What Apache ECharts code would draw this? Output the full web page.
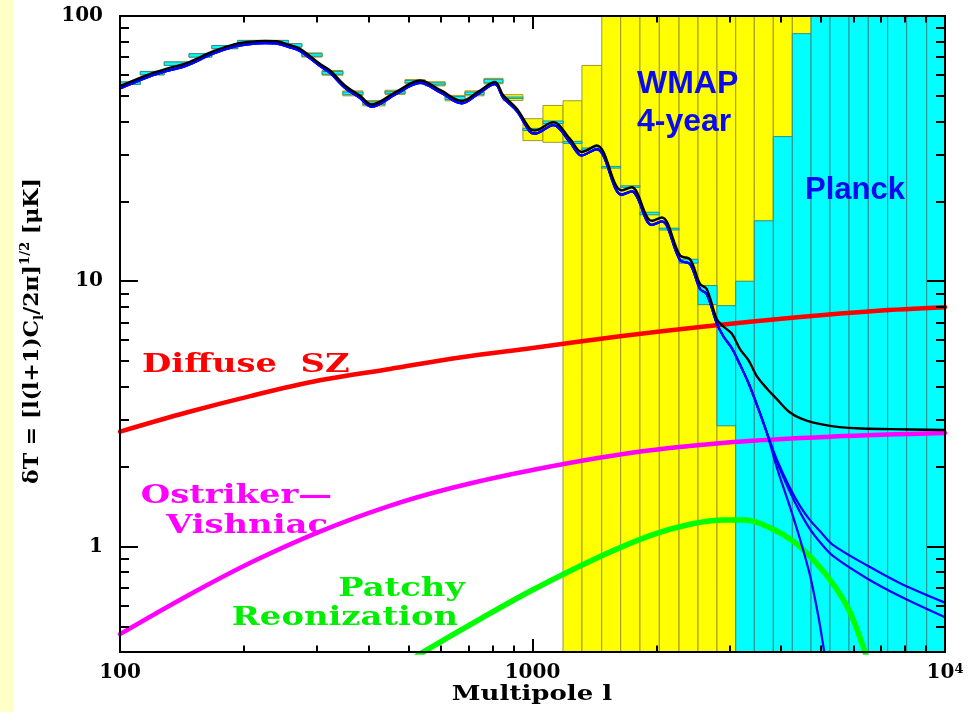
<!DOCTYPE html>
<html>
<head>
<meta charset="utf-8">
<title>CMB anisotropy: WMAP 4-year and Planck sensitivity with secondary anisotropies</title>
<script src="https://cdn.jsdelivr.net/npm/echarts@6.0.0/dist/echarts.min.js"></script>
<style>
  html, body { margin: 0; padding: 0; background: #ffffff; }
  #chart { width: 977px; height: 712px; }
</style>
</head>
<body>
<div id="chart"></div>
<script>
// ---------- Multipole bins shared by the band-power error boxes ----------
const binEdges = [100, 112, 128, 147, 167, 193, 225, 256, 276, 309, 347, 388, 439, 491, 549,
  614, 686, 763, 848, 948, 1060, 1186, 1318, 1472, 1636, 1822, 2030, 2266, 2519, 2801,
  3109, 3449, 3835, 4265, 4734, 5262, 5853, 6518, 7262, 8073, 9029, 10000];

// WMAP 4-year error boxes (dT range per bin, muK)
const wmapLow  = [55.2, 60.0, 65.1, 70.0, 75.3, 79.1, 79.1, 76.4, 70.0, 59.8, 50.0, 45.8,
  50.6, 55.5, 54.5, 47.9, 50.0, 55.5, 48.0, 33.9, 33.4, 0.1, 0.1, 0.1, 0.1, 0.1, 0.1,
  0.1, 0.1, 0.1, 0.1, 0.1, 0.1, 0.1];
const wmapHigh = [56.4, 61.8, 67.1, 72.1, 77.4, 80.9, 80.9, 78.6, 72.6, 62.3, 52.2, 48.0,
  52.5, 57.6, 56.5, 50.2, 52.2, 58.2, 50.5, 41.0, 46.0, 47.9, 65.1, 1000, 1000, 1000, 1000,
  1000, 1000, 1000, 1000, 1000, 1000, 1000];

// Planck forecast error boxes (dT range per bin, muK)
const planckLow  = [55.2, 60.0, 65.1, 70.0, 75.3, 79.1, 79.1, 76.4, 70.5, 60.3, 50.5, 46.3,
  51.1, 56.0, 55.0, 48.4, 50.5, 56.0, 48.8, 37.0, 39.3, 33.1, 31.2, 26.7, 22.6, 17.8, 15.6,
  11.7, 8.16, 2.85, 0.1, 0.1, 0.1, 0.1, 0.1, 0.1, 0.1, 0.1, 0.1, 0.1, 0.1];
const planckHigh = [56.4, 61.8, 67.1, 72.1, 77.4, 80.9, 80.9, 78.6, 72.1, 61.8, 51.7, 47.5,
  52.0, 57.1, 56.0, 49.7, 51.7, 57.7, 49.5, 37.7, 40.2, 33.7, 31.8, 27.1, 22.9, 18.2, 15.85,
  12.1, 9.63, 8.09, 10.0, 16.9, 35.1, 85.8, 1000, 1000, 1000, 1000, 1000, 1000, 1000];

// ---------- Primary CMB spectrum (total, with secondaries) ----------
const cmbL = [100, 118, 130, 145, 168, 190, 204, 225, 240, 256, 273, 305, 323, 351, 382, 407,
  467, 534, 600, 674, 738, 811, 849, 916, 986, 1014, 1123, 1233, 1316, 1431, 1645, 1739,
  1945, 2057, 2279, 2409, 2547, 2644, 2796, 2901, 3040, 3184, 3335, 3494, 3695, 3908, 4210,
  4620, 5262, 6108, 7356, 10000];
const cmbT = [54.4, 60.4, 63.3, 66.4, 73.5, 78.3, 79.8, 80.6, 80.3, 78.0, 75.3, 66.1, 62.3,
  54.7, 50.0, 46.4, 51.8, 57.1, 52.4, 47.8, 51.8, 56.4, 50.2, 44.7, 37.6, 37.0, 39.8, 34.4,
  30.7, 32.5, 22.0, 22.6, 16.9, 17.4, 12.5, 12.1, 9.77, 9.35, 7.21, 6.75, 6.35, 5.55, 5.05,
  4.40, 3.95, 3.60, 3.20, 2.98, 2.85, 2.79, 2.77, 2.75];

// Model spectra (blue): shared low-l part, then three damping-tail variants
const modelL = [100, 118, 130, 145, 168, 190, 204, 225, 240, 256, 273, 305, 323, 351, 382, 407,
  467, 534, 600, 674, 738, 811, 849, 916, 986, 1014, 1123, 1233, 1316, 1431, 1645, 1739,
  1945, 2057, 2279, 2409, 2547, 2644, 2796, 2901, 3040, 3184, 3335, 3494, 3695];
const modelT = [53.3, 59.2, 62.0, 65.0, 72.0, 76.7, 78.2, 79.0, 78.7, 76.4, 73.8, 64.8, 61.0,
  53.6, 49.0, 45.5, 50.8, 56.0, 51.3, 46.8, 50.8, 55.3, 49.2, 43.8, 36.6, 36.0, 38.8, 33.4,
  29.8, 31.5, 21.2, 21.8, 16.3, 16.8, 12.0, 11.6, 9.35, 8.95, 6.95, 6.2, 5.6, 4.85, 4.15,
  3.44, 2.70];
const tailUpperL = [3908, 4210, 4452, 4706, 4977, 5360, 6458, 7782, 10000];
const tailUpperT = [2.135, 1.66, 1.419, 1.257, 1.142, 1.011, 0.850, 0.727, 0.614];
const tailLowerL = [3908, 4210, 4452, 4706, 4977, 5360, 6458, 7782, 10000];
const tailLowerT = [2.099, 1.603, 1.347, 1.162, 1.038, 0.919, 0.759, 0.649, 0.541];
const tailSteepL = [3908, 4210, 4452, 4706, 4921, 5070, 5146];
const tailSteepT = [1.992, 1.407, 1.065, 0.779, 0.555, 0.421, 0.360];

// ---------- Secondary anisotropies ----------
const szL = [100, 145, 207, 305, 451, 667, 1000, 1630, 2547, 4452, 6766, 10000];
const szT = [2.71, 3.20, 3.69, 4.23, 4.67, 5.16, 5.60, 6.20, 6.72, 7.33, 7.73, 7.98];
const ovL = [100, 145, 210, 305, 443, 643, 1000, 1755, 3067, 5360, 10000];
const ovT = [0.467, 0.649, 0.877, 1.138, 1.411, 1.668, 1.942, 2.259, 2.475, 2.597, 2.677];
const prL = [505, 548, 746, 1000, 1458, 1927, 2409, 2929, 3275, 3766, 4329, 4840, 5412, 5885, 6292, 6505];
const prT = [0.372, 0.403, 0.532, 0.685, 0.916, 1.099, 1.212, 1.257, 1.257, 1.177, 1.034, 0.876, 0.705, 0.565, 0.431, 0.369];

// ---------- Axis ticks ----------
const xMajorTicks = [100, 1000, 10000];
const xMinorTicks = [200, 300, 400, 500, 600, 700, 800, 900, 2000, 3000, 4000, 5000, 6000, 7000, 8000, 9000];
const yMajorTicks = [1, 10, 100];
const yMinorTicks = [0.5, 0.6, 0.7, 0.8, 0.9, 2, 3, 4, 5, 6, 7, 8, 9, 20, 30, 40, 50, 60, 70, 80, 90];

const SERIF = '"DejaVu Serif", "Liberation Serif", serif';
const SANS = '"Liberation Sans", Arial, sans-serif';

function pairs(xs, ys) { return xs.map((x, i) => [x, ys[i]]); }
function boxRows(lo, hi) { return lo.map((v, i) => [binEdges[i], binEdges[i + 1], v, hi[i]]); }

function boxRenderer(fill, stroke) {
  return function (params, api) {
    const p0 = api.coord([api.value(0), api.value(3)]);
    const p1 = api.coord([api.value(1), api.value(2)]);
    const cs = params.coordSys;
    const rect = echarts.graphic.clipRectByRect(
      { x: p0[0], y: p0[1], width: p1[0] - p0[0], height: p1[1] - p0[1] },
      { x: cs.x, y: cs.y, width: cs.width, height: cs.height });
    if (!rect) return;
    return { type: 'rect', shape: rect, style: { fill: fill, stroke: stroke, lineWidth: 1 } };
  };
}

const tickLine = { color: '#000', width: 2 };
const axisLineStyle = { show: true, onZero: false, lineStyle: { color: '#000', width: 2 } };

function xAxisDef(position, ticks, len, labels) {
  return {
    type: 'log', logBase: 10, min: 100, max: 10000, position: position, z: 10,
    axisLine: axisLineStyle,
    axisTick: { show: true, inside: true, length: len, customValues: ticks, lineStyle: tickLine },
    minorTick: { show: false }, splitLine: { show: false }, minorSplitLine: { show: false },
    axisLabel: labels ? {
      show: true, margin: 11, customValues: xMajorTicks,
      formatter: function (v) {
        const e = Math.round(Math.log10(v));
        return e >= 4 ? '{n|10}{e|' + e + '}' : '{n|' + Math.round(v) + '}';
      },
      rich: {
        n: { fontFamily: SERIF, fontWeight: 'bold', fontSize: 20, color: '#000' },
        e: { fontFamily: SERIF, fontWeight: 'bold', fontSize: 13, color: '#000', verticalAlign: 'top' }
      }
    } : { show: false }
  };
}

function yAxisDef(position, ticks, len, labels) {
  return {
    type: 'log', logBase: 10, min: 0.4, max: 100, position: position, z: 10,
    axisLine: axisLineStyle,
    axisTick: { show: true, inside: true, length: len, customValues: ticks, lineStyle: tickLine },
    minorTick: { show: false }, splitLine: { show: false }, minorSplitLine: { show: false },
    axisLabel: labels ? {
      show: true, margin: 17, customValues: yMajorTicks,
      fontFamily: SERIF, fontWeight: 'bold', fontSize: 20, color: '#000',
      formatter: function (v) { return String(Math.round(v)); }
    } : { show: false }
  };
}

function curve(name, data, color, width, z) {
  return {
    type: 'line', name: name, data: data, smooth: 0.35, showSymbol: false, symbol: 'none',
    clip: true, silent: true, z: z,
    lineStyle: { color: color, width: width, cap: 'round', join: 'round' }
  };
}

function label(text, x, y, color, font, align, scaleX) {
  return {
    type: 'text', x: x, y: y, scaleX: scaleX || 1, z: 20,
    style: {
      text: text, fill: color, font: font,
      align: align, textAlign: align, verticalAlign: 'middle', textVerticalAlign: 'middle'
    }
  };
}

const PG_FONT = 'bold 26px ' + SERIF;
const PG_STRETCH = 1.3;

const option = {
  animation: false,
  backgroundColor: '#ffffff',
  grid: { left: 120, right: 32, top: 16, bottom: 60, containLabel: false, outerBoundsMode: 'none' },
  xAxis: [
    xAxisDef('bottom', xMajorTicks, 13, true),
    xAxisDef('bottom', xMinorTicks, 6.5, false),
    xAxisDef('top', xMajorTicks, 13, false),
    xAxisDef('top', xMinorTicks, 6.5, false)
  ],
  yAxis: [
    yAxisDef('left', yMajorTicks, 18, true),
    yAxisDef('left', yMinorTicks, 9, false),
    yAxisDef('right', yMajorTicks, 18, false),
    yAxisDef('right', yMinorTicks, 9, false)
  ],
  series: [
    {
      type: 'custom', name: 'WMAP 4-year', silent: true, z: 1,
      data: boxRows(wmapLow, wmapHigh), encode: { x: [0, 1], y: [2, 3] },
      renderItem: boxRenderer('#ffff00', '#a0982a')
    },
    {
      type: 'custom', name: 'Planck', silent: true, z: 2,
      data: boxRows(planckLow, planckHigh), encode: { x: [0, 1], y: [2, 3] },
      renderItem: boxRenderer('#00ffff', '#2f8f8f')
    },
    curve('Diffuse SZ', pairs(szL, szT), '#ff0000', 4.5, 3),
    curve('Ostriker-Vishniac', pairs(ovL, ovT), '#ff00ff', 4.5, 3),
    curve('Patchy Reonization', pairs(prL, prT), '#00ff00', 5.5, 3),
    curve('Model A', pairs(modelL.concat(tailUpperL), modelT.concat(tailUpperT)), '#0000ff', 2.2, 4),
    curve('Model B', pairs(modelL.concat(tailLowerL), modelT.concat(tailLowerT)), '#0000ff', 2.2, 4),
    curve('Model C', pairs(modelL.concat(tailSteepL), modelT.concat(tailSteepT)), '#0000ff', 2.2, 4),
    curve('Total', pairs(cmbL, cmbT), '#000000', 2.4, 5)
  ],
  graphic: [
    { type: 'rect', x: 0, y: 0, shape: { x: 0, y: 0, width: 13, height: 712 }, style: { fill: '#ffffc8' }, z: -5 },
    label('WMAP', 637, 84, '#0a0af0', 'bold 32px ' + SANS, 'left'),
    label('4-year', 637, 122, '#0a0af0', 'bold 32px ' + SANS, 'left'),
    label('Planck', 805, 190, '#0a0af0', 'bold 31px ' + SANS, 'left'),
    label('Diffuse  SZ', 142, 365, '#ff0000', PG_FONT, 'left', PG_STRETCH),
    label('Ostriker\u2014', 332, 496, '#ff00ff', PG_FONT, 'right', PG_STRETCH),
    label('Vishniac', 328, 526, '#ff00ff', PG_FONT, 'right', PG_STRETCH),
    label('Patchy', 465, 589, '#00ee00', PG_FONT, 'right', PG_STRETCH),
    label('Reonization', 458, 618, '#00ee00', PG_FONT, 'right', PG_STRETCH),
    label('Multipole l', 532, 695, '#000000', 'bold 20px ' + SERIF, 'center', 1.3),
    {
      type: 'text', x: 33, y: 331, rotation: Math.PI / 2, scaleX: 1.1, z: 20,
      style: {
        text: '{m|\u03b4T = [l(l+1)C}{s|l}{m|/2\u03c0]}{p|1/2}{m| [\u03bcK]}',
        align: 'center', textAlign: 'center', verticalAlign: 'middle', textVerticalAlign: 'middle',
        rich: {
          m: { fontFamily: SERIF, fontWeight: 'bold', fontSize: 20, fill: '#000', color: '#000', lineHeight: 26 },
          s: { fontFamily: SERIF, fontWeight: 'bold', fontSize: 12, fill: '#000', color: '#000', verticalAlign: 'bottom' },
          p: { fontFamily: SERIF, fontWeight: 'bold', fontSize: 12, fill: '#000', color: '#000', verticalAlign: 'top' }
        }
      }
    }
  ]
};

const chart = echarts.init(document.getElementById('chart'), null, { renderer: 'canvas' });
chart.setOption(option);
</script>
</body>
</html>
